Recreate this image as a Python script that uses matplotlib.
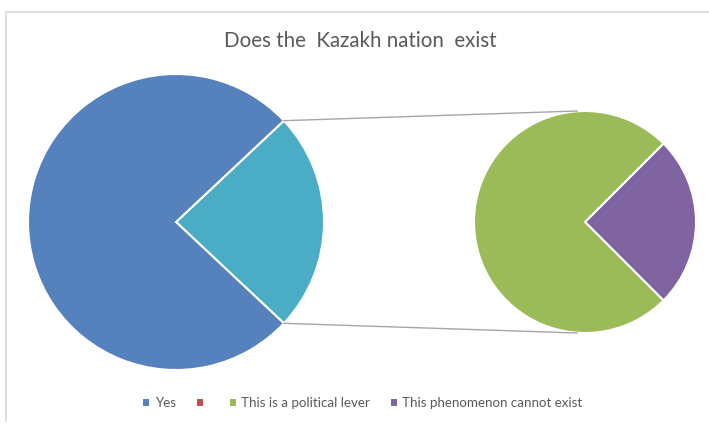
import numpy as np
import matplotlib.pyplot as plt
from matplotlib.patches import Patch

# dados
rotulos = ['Yes', '', 'This is a political lever', 'This phenomenon cannot exist']
cores = ['#5581BC', '#C0504D', '#9BBB59', '#8064A2']
sim = 76
alavanca = 18
nao_existe = 6

W, H = 709, 424
fig = plt.figure(figsize=(W / 100, H / 100), dpi=100)
ax = fig.add_axes([0, 0, 1, 1])

# moldura clara
ax.plot([6, 6, 709], [2, 412, 412], color='#D9D9D9', lw=1.2, solid_capstyle='butt')

# pizza principal
c1, r1 = (176, 202), 148
outros = alavanca + nao_existe
ang1 = outros / (sim + outros) * 360
ax.pie([outros, sim], colors=['#4BACC6', cores[0]], startangle=-ang1 / 2,
       center=c1, radius=r1, frame=True,
       wedgeprops=dict(edgecolor='white', linewidth=1.5))

# pizza secundaria
c2, r2 = (585, 202), 111
ang2 = nao_existe / outros * 360
ax.pie([nao_existe, alavanca], colors=[cores[3], cores[2]], startangle=-ang2 / 2,
       center=c2, radius=r2, frame=True,
       wedgeprops=dict(edgecolor='white', linewidth=1.5))
ax.set_xlim(0, W)
ax.set_ylim(0, H)
ax.set_aspect('equal')
ax.axis('off')

# linhas de ligacao
for s in (1, -1):
    a = np.deg2rad(s * ang1 / 2)
    x0 = c1[0] + r1 * np.cos(a)
    y0 = c1[1] + r1 * np.sin(a)
    ax.plot([x0, c2[0] - 8], [y0, c2[1] + s * r2], color='#A6A6A6', lw=1)

ax.text(360, 383, 'Does the  Kazakh nation  exist', ha='center', va='center',
        fontsize=14.8, color='#595959', family='Lato')

handles = [Patch(facecolor=c, edgecolor='none') for c in cores]
leg = fig.legend(handles, rotulos, loc='center', bbox_to_anchor=(363 / W, 1 - 403 / H),
                 ncol=4, frameon=False, handlelength=0.45, handleheight=0.45,
                 handletextpad=0.4, columnspacing=1.6,
                 prop={'family': 'Lato', 'size': 9.6})
for t in leg.get_texts():
    t.set_color('#595959')

fig.savefig('out.png', dpi=100, facecolor='white')
